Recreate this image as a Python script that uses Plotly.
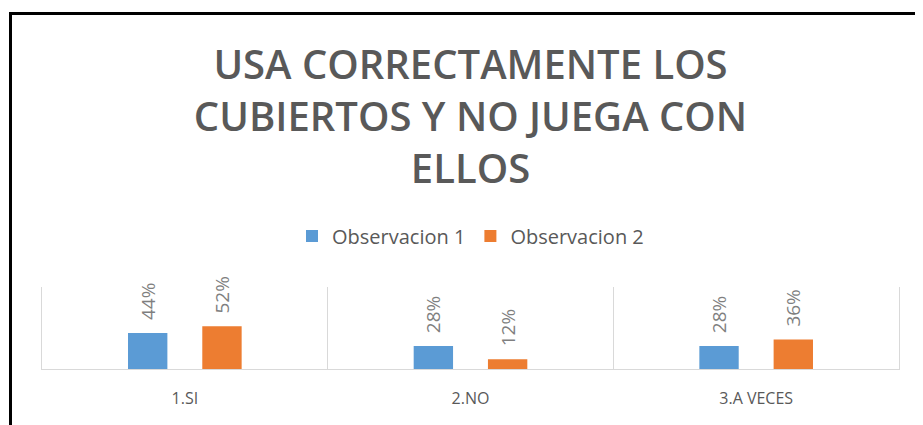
import plotly.graph_objects as go

categories = ["1.SI", "2.NO", "3.A VECES"]
obs1 = [44, 28, 28]
obs2 = [52, 12, 36]
series_names = ["Observacion 1", "Observacion 2"]
title_text = "USA CORRECTAMENTE LOS<br>CUBIERTOS Y NO JUEGA CON<br>ELLOS"

BLUE = "#5B9BD5"
ORANGE = "#ED7D31"
GRAY = "#595959"
LABEL = "#7F7F7F"
GRID = "#D9D9D9"

# page body has an 8px margin; figure coordinates = page coordinates - 8
OFF = 8
W, H = 923 - OFF, 425 - OFF
L, T = 42 - OFF, 287 - OFF
R = W - (899 - OFF)
B = H - (369 - OFF)
pw, ph = W - L - R, H - T - B

fig = go.Figure()
for name, vals, col in [(series_names[0], obs1, BLUE), (series_names[1], obs2, ORANGE)]:
    fig.add_trace(go.Bar(
        x=categories, y=vals, name=name, marker=dict(color=col, line=dict(width=0)),
        texttemplate="\u00a0\u00a0%{y}%", textposition="outside", textangle=-90,
        textfont=dict(family="Open Sans", size=19, color=LABEL),
        cliponaxis=False, constraintext="none",
    ))

def px_x(page_x):
    return (page_x - OFF - L) / pw

def px_y(page_y):
    return (H - B - (page_y - OFF)) / ph

fig.update_layout(
    width=W, height=H,
    margin=dict(l=L, r=R, t=T, b=B),
    paper_bgcolor="white", plot_bgcolor="white",
    barmode="group", bargap=0.48, bargroupgap=0.47,
    title=dict(text=title_text, x=0.5, xref="paper", y=1 - 71 / H, yref="container",
               yanchor="top", xanchor="center",
               font=dict(family="Open Sans", size=40, color=GRAY, weight=600)),
    legend=dict(orientation="h", x=0.5, xanchor="center", y=px_y(236), yanchor="middle",
                font=dict(family="Open Sans", size=20, color=GRAY), traceorder="normal",
                itemwidth=30),
    xaxis=dict(showline=True, linecolor=GRID, linewidth=1, tickson="boundaries",
               showgrid=True, gridcolor=GRID, gridwidth=1, ticklen=0,
               ticklabelstandoff=15,
               tickfont=dict(family="Open Sans", size=16, color=GRAY)),
    yaxis=dict(range=[0, 100], showgrid=False, showticklabels=False, zeroline=False,
               showline=True, mirror=True, linecolor=GRID, linewidth=1),
    shapes=[
        dict(type="line", xref="paper", yref="paper", x0=px_x(10.5), x1=px_x(940),
             y0=px_y(13.5), y1=px_y(13.5), line=dict(color="black", width=3)),
        dict(type="line", xref="paper", yref="paper", x0=px_x(10.5), x1=px_x(10.5),
             y0=px_y(12), y1=px_y(440), line=dict(color="black", width=3)),
    ],
)

fig.write_html("out.html")
